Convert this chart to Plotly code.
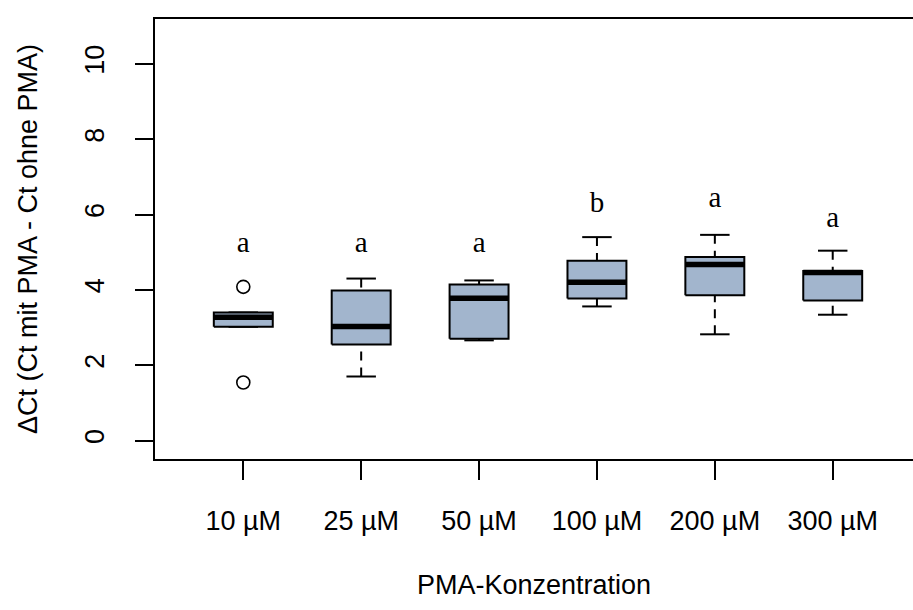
import plotly.graph_objects as go

categories = ["10 µM", "25 µM", "50 µM", "100 µM", "200 µM", "300 µM"]
lower_whisker = [3.02, 1.70, 2.66, 3.56, 2.82, 3.34]
q1 = [3.02, 2.55, 2.70, 3.77, 3.86, 3.72]
median = [3.27, 3.03, 3.78, 4.20, 4.67, 4.46]
q3 = [3.40, 3.98, 4.14, 4.77, 4.87, 4.50]
upper_whisker = [3.40, 4.30, 4.25, 5.40, 5.46, 5.04]
outlier_x = ["10 µM", "10 µM"]
outlier_y = [4.08, 1.54]
letters = ["a", "a", "a", "b", "a", "a"]
letter_y = [5.2, 5.2, 5.2, 6.26, 6.38, 5.87]
y_ticks = [0, 2, 4, 6, 8, 10]

FILL = "#A2B5CD"
half = 0.25
cap = 0.125
pos = {c: i + 1 for i, c in enumerate(categories)}

fig = go.Figure()
for i, c in enumerate(categories):
    x = pos[c]
    for a, b in ((lower_whisker[i], q1[i]), (upper_whisker[i], q3[i])):
        if a != b:
            fig.add_trace(go.Scatter(x=[x, x], y=[a, b], mode="lines",
                                     line=dict(color="black", width=2, dash="9px,7px"),
                                     hoverinfo="skip", showlegend=False))
    for w in (lower_whisker[i], upper_whisker[i]):
        fig.add_trace(go.Scatter(x=[x - cap, x + cap], y=[w, w], mode="lines",
                                 line=dict(color="black", width=2),
                                 hoverinfo="skip", showlegend=False))
    fig.add_trace(go.Scatter(x=[x - half, x + half, x + half, x - half, x - half],
                             y=[q1[i], q1[i], q3[i], q3[i], q1[i]],
                             mode="lines", fill="toself", fillcolor=FILL,
                             line=dict(color="black", width=2),
                             hoverinfo="skip", showlegend=False))
    fig.add_trace(go.Scatter(x=[x - half, x + half], y=[median[i], median[i]], mode="lines",
                             line=dict(color="black", width=5.5),
                             hoverinfo="skip", showlegend=False))

fig.add_trace(go.Scatter(x=[pos[c] for c in outlier_x], y=outlier_y, mode="markers",
                         marker=dict(symbol="circle-open", size=13, color="black",
                                     line=dict(width=1.6, color="black")),
                         hoverinfo="skip", showlegend=False))

fig.add_trace(go.Scatter(x=[pos[c] for c in categories], y=letter_y, mode="text",
                         text=letters, textposition="middle center",
                         textfont=dict(family="Liberation Serif", size=29, color="black"),
                         hoverinfo="skip", showlegend=False))

fig.update_layout(
    width=913, height=610,
    margin=dict(l=155, r=0, t=19, b=151),
    paper_bgcolor="white", plot_bgcolor="white",
    font=dict(family="Liberation Sans", size=27, color="black"),
    xaxis=dict(range=[0.251, 6.681], tickvals=[pos[c] for c in categories],
               ticktext=categories, ticks="outside", ticklen=19, tickwidth=1.5,
               tickcolor="black", showline=True, linecolor="black", linewidth=1.5,
               mirror=True, showgrid=False, zeroline=False,
               ticklabelstandoff=18),
    yaxis=dict(range=[-0.49, 11.19], tickvals=y_ticks, ticks="outside", ticklen=18,
               tickwidth=1.5, tickcolor="black", showline=True, linecolor="black",
               linewidth=1.5, showgrid=False, zeroline=False, tickangle=-90,
               ticklabelstandoff=20),
    annotations=[
        dict(text="PMA-Konzentration", xref="paper", yref="paper", x=0.5, y=0.0,
             xanchor="center", yanchor="middle", yshift=-126, showarrow=False,
             font=dict(size=27)),
        dict(text="ΔCt (Ct mit PMA - Ct ohne PMA)", xref="paper", yref="paper",
             x=0, y=0.5, xanchor="center", yanchor="middle", xshift=-127,
             textangle=-90, showarrow=False, font=dict(size=27)),
    ],
)
fig.write_html("out.html")
